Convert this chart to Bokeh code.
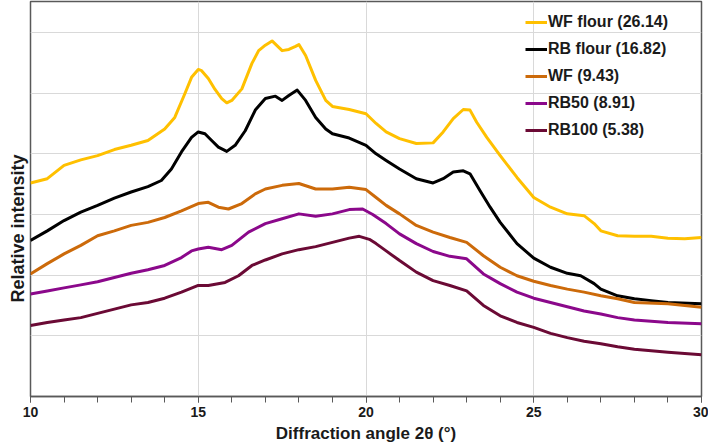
from bokeh.plotting import figure
from bokeh.models import Range1d, SingleIntervalTicker, FixedTicker, Legend, LegendItem, Title
from bokeh.embed import file_html
from bokeh.resources import INLINE

# ---- data ----
wf_flour_x = [10, 10.5, 11, 11.5, 12, 12.5, 13, 13.5, 14, 14.3, 14.6, 14.8, 15, 15.1, 15.3, 15.5,
              15.7, 15.85, 16, 16.3, 16.6, 16.8, 17, 17.2, 17.5, 17.7, 17.9, 18, 18.2, 18.5, 18.8,
              19, 19.5, 20, 20.3, 20.6, 21, 21.5, 22, 22.3, 22.6, 22.9, 23.1, 23.3, 23.6, 24, 24.5,
              25, 25.5, 26, 26.5, 26.8, 27, 27.5, 28, 28.5, 29, 29.5, 30]
wf_flour_y = [352, 359, 381, 390, 397, 407, 414, 422, 441, 460, 499, 526, 539, 537, 524, 506,
              491, 484, 488, 507, 549, 570, 579, 586, 570, 572, 577, 580, 562, 521, 488,
              478, 473, 466, 450, 436, 425, 417, 418, 436, 458, 473, 472, 452, 427, 397, 361,
              328, 312, 301, 298, 285, 273, 265, 264, 264, 261, 260, 262]

rb_flour_x = [10, 10.5, 11, 11.5, 12, 12.5, 13, 13.5, 13.9, 14.2, 14.5, 14.8, 15, 15.2, 15.4, 15.6,
              15.85, 16.1, 16.4, 16.7, 17, 17.3, 17.5, 17.7, 17.95, 18.2, 18.5, 18.8, 19, 19.5, 20,
              20.3, 20.6, 21, 21.5, 22, 22.3, 22.6, 22.9, 23.1, 23.4, 23.7, 24, 24.5, 25, 25.5, 26,
              26.4, 26.8, 27, 27.5, 28, 28.5, 29, 30]
rb_flour_y = [257, 273, 290, 304, 315, 327, 337, 346, 356, 375, 403, 427, 436, 433, 422, 411,
              404, 414, 438, 472, 491, 495, 488, 496, 505, 488, 460, 441, 433, 426, 414,
              400, 389, 375, 359, 352, 359, 370, 372, 367, 339, 312, 287, 252, 228, 213, 203,
              199, 186, 177, 166, 161, 158, 155, 153]

wf_x = [10, 10.5, 11, 11.5, 12, 12.5, 13, 13.5, 14, 14.5, 15, 15.3, 15.6, 15.9, 16.3, 16.7, 17,
        17.5, 18, 18.5, 19, 19.5, 20, 20.3, 20.6, 21, 21.5, 22, 22.5, 23, 23.5, 24, 24.5, 25,
        25.5, 26, 26.5, 27, 27.5, 28, 29, 30]
wf_y = [202, 219, 235, 249, 265, 273, 282, 287, 295, 306, 318, 320, 312, 309, 318, 334, 342,
        348, 351, 342, 342, 345, 341, 328, 315, 301, 282, 271, 262, 254, 232, 213, 199, 190,
        183, 177, 172, 166, 161, 155, 153, 147]

rb50_x = [10, 10.5, 11, 11.5, 12, 12.5, 13, 13.5, 14, 14.5, 14.8, 15, 15.3, 15.7, 16, 16.5, 17,
          17.5, 18, 18.5, 19, 19.5, 19.9, 20.2, 20.6, 21, 21.5, 22, 22.5, 23, 23.5, 24, 24.5, 25,
          25.5, 26, 26.5, 27, 27.5, 28, 29, 30]
rb50_y = [169, 174, 179, 184, 189, 196, 203, 209, 216, 229, 240, 243, 246, 242, 249, 271, 285,
          293, 301, 297, 301, 308, 309, 300, 285, 268, 252, 239, 231, 227, 202, 186, 172, 162,
          155, 148, 141, 136, 130, 126, 122, 120]

rb100_x = [10, 10.5, 11, 11.5, 12, 12.5, 13, 13.5, 14, 14.5, 15, 15.3, 15.8, 16.2, 16.6, 17, 17.5,
           18, 18.5, 19, 19.5, 19.8, 20.1, 20.3, 20.6, 21, 21.5, 22, 22.5, 23, 23.5, 24, 24.5, 25,
           25.5, 26, 26.5, 27, 27.5, 28, 29, 30]
rb100_y = [117, 122, 126, 130, 137, 144, 151, 155, 162, 172, 183, 183, 188, 199, 216, 225, 235,
           242, 247, 254, 261, 264, 259, 252, 240, 224, 205, 191, 183, 174, 150, 133, 122, 114,
           104, 97, 91, 87, 82, 78, 73, 69]

series_labels = ["WF flour (26.14)", "RB flour (16.82)", "WF (9.43)", "RB50 (8.91)", "RB100 (5.38)"]
series_colors = ["#FFC000", "#000000", "#CC6A0A", "#8B088B", "#6B0A35"]
x_title = "Diffraction angle 2θ (°)"
y_title = "Relative intensity"

FONT = "Liberation Sans"

p = figure(width=708, height=445, output_backend="svg", toolbar_location=None,
           x_range=Range1d(10, 30), y_range=Range1d(0, 651),
           min_border_left=30, min_border_right=7, min_border_top=1, min_border_bottom=0)
p.background_fill_color = "white"
p.border_fill_color = "white"
p.outline_line_color = "#595959"
p.outline_line_width = 1.5

xt = SingleIntervalTicker(interval=5, num_minor_ticks=5)
yt = SingleIntervalTicker(interval=100)
p.xaxis.ticker = xt
p.xgrid.ticker = xt
p.yaxis.ticker = FixedTicker(ticks=[])
p.ygrid.ticker = yt
p.grid.grid_line_color = "#d9d9d9"
p.grid.grid_line_width = 1

# x axis
p.xaxis.axis_label = x_title
p.xaxis.axis_label_text_font = FONT
p.xaxis.axis_label_text_font_style = "bold"
p.xaxis.axis_label_text_font_size = "17px"
p.xaxis.axis_label_text_color = "#1a1a1a"
p.xaxis.axis_label_standoff = 4
p.xaxis.major_label_text_font = FONT
p.xaxis.major_label_text_font_style = "bold"
p.xaxis.major_label_text_font_size = "14px"
p.xaxis.major_label_text_color = "#1a1a1a"
p.xaxis.major_label_standoff = 4
p.xaxis.axis_line_color = "#595959"
p.xaxis.axis_line_width = 1.5
p.xaxis.major_tick_line_color = "#595959"
p.xaxis.minor_tick_line_color = "#595959"
p.xaxis.major_tick_in = 0
p.xaxis.major_tick_out = 6
p.xaxis.minor_tick_in = 0
p.xaxis.minor_tick_out = 6

# y axis: no ticks, no tick labels; title drawn in the left side panel
p.yaxis.major_label_standoff = 0
p.yaxis.major_tick_in = 0
p.yaxis.major_tick_out = 0
p.yaxis.minor_tick_in = 0
p.yaxis.minor_tick_out = 0
p.yaxis.axis_line_color = None

ytitle = Title(text=y_title, align="left", offset=94, standoff=6,
               text_font=FONT, text_font_style="bold", text_font_size="18px",
               text_color="#1a1a1a")
p.add_layout(ytitle, "left")

xs = [wf_flour_x, rb_flour_x, wf_x, rb50_x, rb100_x]
ys = [wf_flour_y, rb_flour_y, wf_y, rb50_y, rb100_y]
items = []
for x, y, c, lab in zip(xs, ys, series_colors, series_labels):
    r = p.line(x, y, line_color=c, line_width=3, line_join="round")
    items.append(LegendItem(label=lab, renderers=[r]))

legend = Legend(items=items, location=(495, 256))
legend.background_fill_alpha = 0
legend.border_line_color = None
legend.padding = 0
legend.margin = 0
legend.spacing = 7
legend.label_height = 20
legend.glyph_height = 20
legend.glyph_width = 22
legend.label_standoff = 1
legend.label_text_font = FONT
legend.label_text_font_style = "bold"
legend.label_text_font_size = "16px"
legend.label_text_color = "#1a1a1a"
p.add_layout(legend)

open("out.html", "w").write(file_html(p, INLINE))
